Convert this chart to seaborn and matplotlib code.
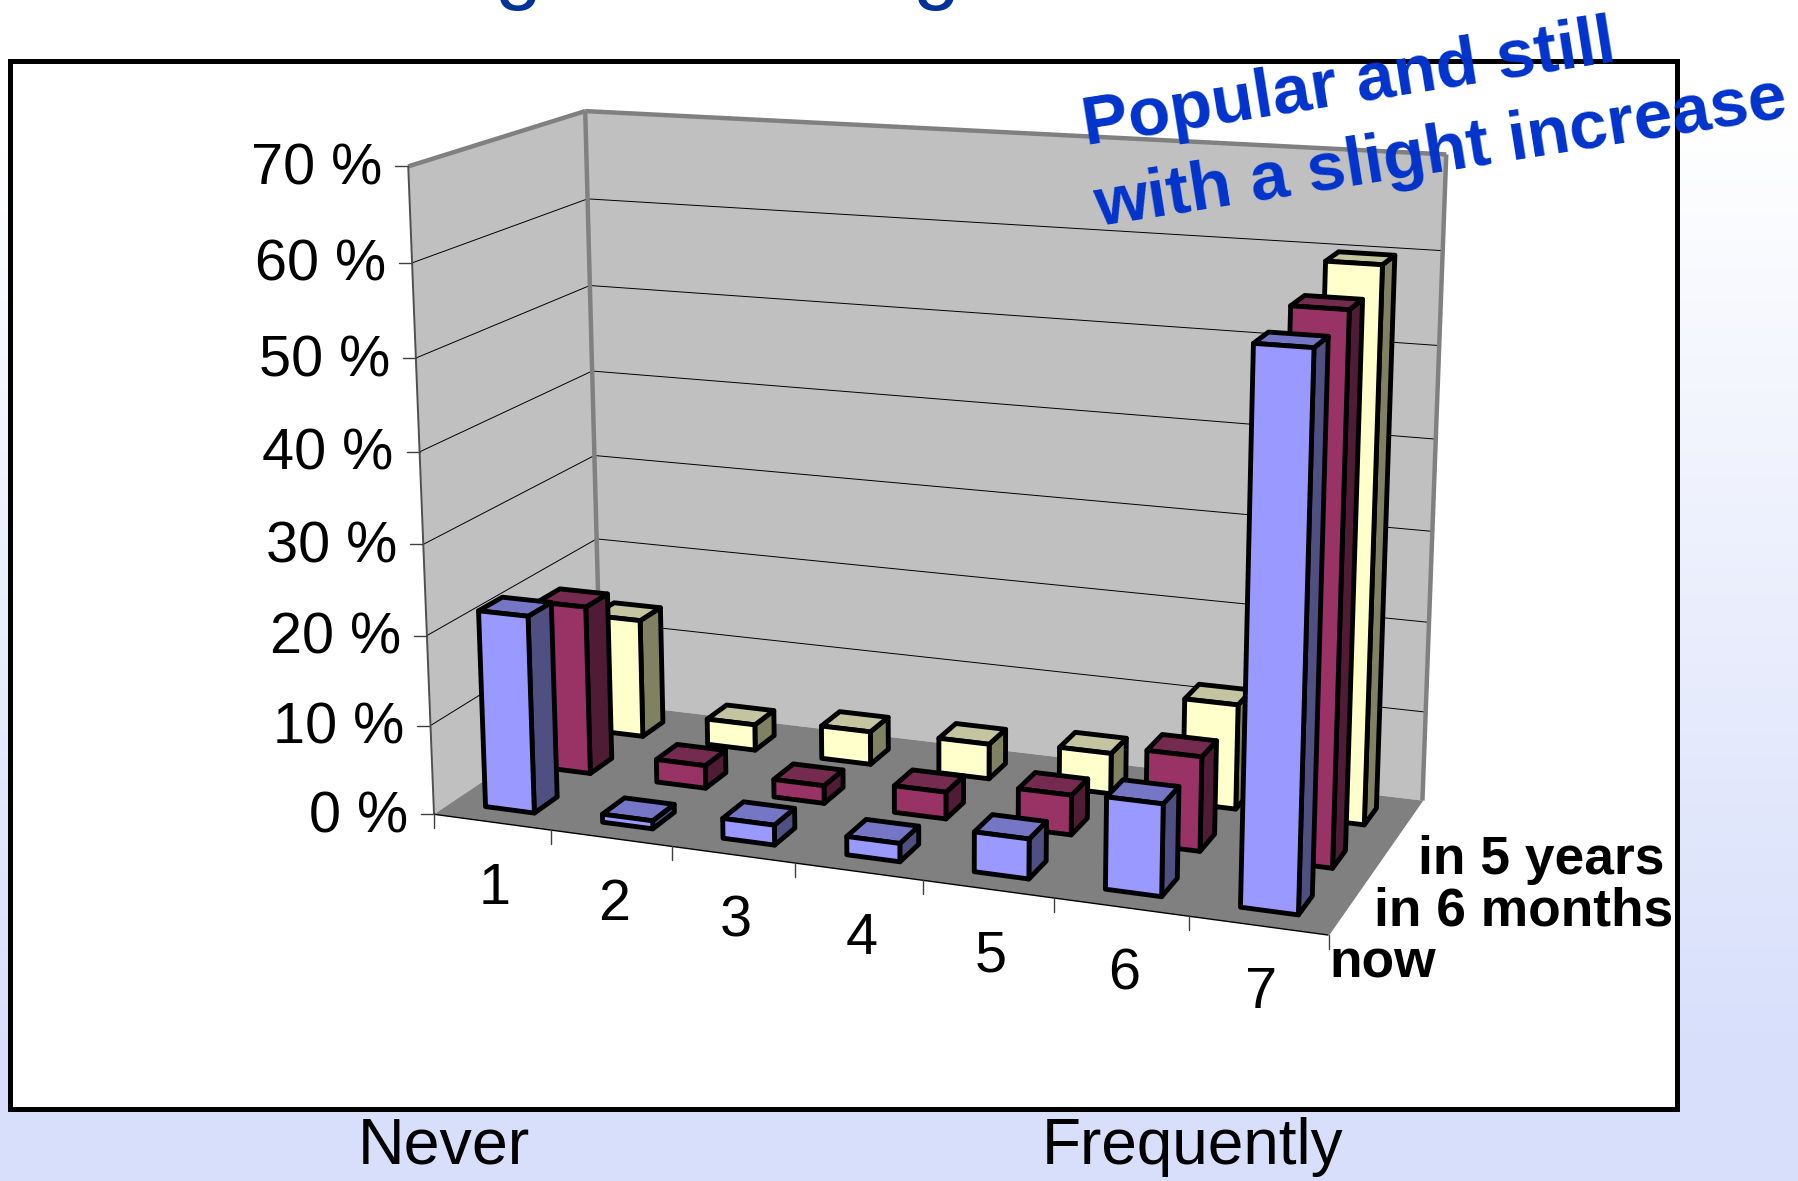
import numpy as np
import pandas as pd
import seaborn as sns
import matplotlib
matplotlib.use("Agg")
import matplotlib.pyplot as plt
from matplotlib.patches import Polygon, Rectangle

# Survey answers: share of respondents per frequency score and time horizon
scores = ["1", "2", "3", "4", "5", "6", "7"]
horizons = ["now", "in 6 months", "in 5 years"]
now_pct = [22.0, 0.9, 2.2, 2.0, 4.3, 9.8, 57.0]
six_months_pct = [19.2, 2.6, 2.0, 3.0, 4.4, 10.3, 58.0]
five_years_pct = [13.8, 3.0, 3.8, 4.0, 4.6, 11.7, 60.0]
z_ticks = [0, 10, 20, 30, 40, 50, 60, 70]

table = pd.DataFrame({"score": scores, "now": now_pct,
                      "in 6 months": six_months_pct, "in 5 years": five_years_pct})
long_table = table.melt(id_vars="score", var_name="horizon", value_name="pct")

sns.set_theme(style="white")
plt.rcParams["font.family"] = ["Liberation Sans", "DejaVu Sans"]
plt.rcParams["text.color"] = "black"

face_cols = sns.color_palette(["#9999FF", "#993366", "#FFFFCC"])
top_cols = sns.color_palette(["#7676C6", "#752A50", "#C4C4A0"])
side_cols = sns.color_palette(["#4F4F82", "#4F1B35", "#808062"])

W, H = 1799, 1181
fig = plt.figure(figsize=(W / 100, H / 100), dpi=100)
ax = fig.add_axes([0, 0, 1, 1])
ax.set_xlim(0, W)
ax.set_ylim(H, 0)
ax.axis("off")

# Slide background: white fading to pale blue towards the bottom
start, stop = np.array([1, 1, 1.0]), np.array([0.847, 0.878, 0.984])
ramp_start, ramp_stop = 120, 1040
ys = np.linspace(0, H, 256)
t = np.clip((ys - ramp_start) / (ramp_stop - ramp_start), 0, 1)[:, None, None]
ax.imshow(start * (1 - t) + stop * t, extent=[0, W, H, 0], aspect="auto", zorder=0)

ax.add_patch(Rectangle((10, 61), 1667, 1048, fc="white", ec="black", lw=3.6, zorder=1))

# Descenders of the slide heading that runs off the top edge
for gx in (518, 936):
    ax.text(gx, -7, "g", fontsize=61, color="#003399", ha="center", va="baseline", zorder=1)

# Camera matrix for the 3D chart box: (score axis, depth axis, percent) -> canvas
box_ref = [
    ((0, 0, 0), (434.8, 811.0)), ((0, 0, 70), (407.3, 167.0)),
    ((0, 3, 70), (586.3, 110.0)), ((0, 3, 0), (600.0, 706.0)),
    ((7, 3, 70), (1446.0, 155.0)), ((7, 3, 0), (1422.6, 797.4)),
    ((7, 0, 0), (1328.6, 938.0)),
]
rows = []
for (X, Y, Z), (u, v) in box_ref:
    rows.append([X, Y, Z, 1, 0, 0, 0, 0, -u * X, -u * Y, -u * Z, -u])
    rows.append([0, 0, 0, 0, X, Y, Z, 1, -v * X, -v * Y, -v * Z, -v])
cam = np.linalg.svd(np.array(rows, float))[2][-1].reshape(3, 4)


def project(X, Y, Z):
    p = cam @ np.array([X, Y, Z, 1.0])
    return p[0] / p[2], p[1] / p[2]


def quad(points, **kw):
    ax.add_patch(Polygon([project(*q) for q in points], closed=True, **kw))


# Walls and floor
quad([(0, 0, 0), (0, 0, 70), (0, 3, 70), (0, 3, 0)], fc="#C0C0C0", ec="none", zorder=2)
quad([(0, 3, 0), (0, 3, 70), (7, 3, 70), (7, 3, 0)], fc="#C0C0C0", ec="none", zorder=2)
quad([(0, 0, 0), (0, 3, 0), (7, 3, 0), (7, 0, 0)], fc="#808080", ec="none", zorder=2.1)


def seg(a, b, **kw):
    pa, pb = project(*a), project(*b)
    ax.plot([pa[0], pb[0]], [pa[1], pb[1]], solid_capstyle="butt", **kw)


for z in z_ticks[1:-1]:
    seg((0, 0, z), (0, 3, z), color="black", lw=0.7, zorder=2.2)
    seg((0, 3, z), (7, 3, z), color="black", lw=0.7, zorder=2.2)
wall_edge = dict(color="#808080", lw=3.2, zorder=2.3)
seg((0, 0, 70), (0, 3, 70), **wall_edge)
seg((0, 3, 70), (7, 3, 70), **wall_edge)
seg((0, 3, 0), (0, 3, 70), **wall_edge)
seg((7, 3, 0), (7, 3, 70), **wall_edge)
seg((0, 0, 0), (0, 0, 70), color="#505050", lw=1.4, zorder=2.3)
seg((0, 0, 0), (7, 0, 0), color="black", lw=1.0, zorder=2.3)
seg((7, 0, 0), (7, 3, 0), color="#808080", lw=1.0, zorder=2.3)

# Axis ticks and tick labels
for z in z_ticks:
    x0, y0 = project(0, 0, z)
    ax.plot([x0 - 13, x0], [y0, y0], color="#404040", lw=1.0, zorder=2.4)
    ax.text(x0 - 26, y0 + 3, f"{z} %", ha="right", va="center", fontsize=41.5, zorder=6)
for i in range(8):
    x0, y0 = project(i, 0, 0)
    ax.plot([x0, x0], [y0, y0 + 14], color="#404040", lw=1.0, zorder=2.4)
for i, s in enumerate(scores):
    x0, y0 = project(i + 0.5, 0, 0)
    ax.text(x0 + 3, y0 + 67, s, ha="center", va="center", fontsize=41.5, zorder=6)

# Bars, painted back row first and left to right inside each row
bar_w, bar_d = 0.42, 0.40
for r in reversed(range(len(horizons))):
    sub = long_table[long_table["horizon"] == horizons[r]]
    for c, val in enumerate(sub["pct"]):
        x0, x1 = c + 0.5 - bar_w / 2, c + 0.5 + bar_w / 2
        y0, y1 = r + 0.5 - bar_d / 2, r + 0.5 + bar_d / 2
        z = 3 + (2 - r) * 0.01 + c * 0.001
        style = dict(ec="black", lw=3.5, joinstyle="round", zorder=z)
        quad([(x1, y0, 0), (x1, y1, 0), (x1, y1, val), (x1, y0, val)], fc=side_cols[r], **style)
        quad([(x0, y0, val), (x1, y0, val), (x1, y1, val), (x0, y1, val)], fc=top_cols[r], **style)
        quad([(x0, y0, 0), (x1, y0, 0), (x1, y0, val), (x0, y0, val)], fc=face_cols[r], **style)

# Depth-axis series names
bold = dict(fontsize=38.4, fontweight="bold", ha="left", va="center", zorder=6)
ax.text(1329, 963, horizons[0], **bold)
ax.text(1374, 911, horizons[1], **bold)
ax.text(1418, 860, horizons[2], **bold)

# Scale ends below the panel
ax.text(444, 1147, "Never", fontsize=46.5, ha="center", va="center", zorder=6)
ax.text(1193, 1147, "Frequently", fontsize=46, ha="center", va="center", zorder=6)

# Callout over the top right corner
blue = "#0033CC"
callout = dict(fontsize=49.8, fontweight="bold", color=blue, rotation=9,
               rotation_mode="anchor", ha="left", va="baseline", zorder=7)
ax.text(1086, 145, "Popular and still", **callout)
ax.text(1098, 226, "with a slight increase", **callout)

fig.savefig("out.png", dpi=100)
